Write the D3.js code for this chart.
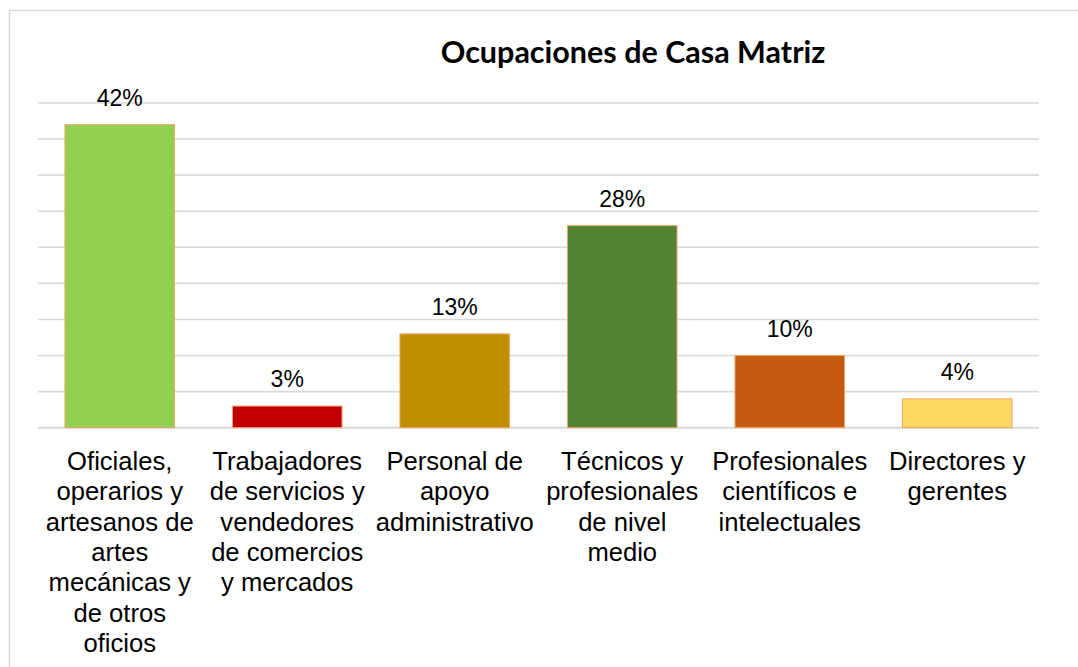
<!DOCTYPE html>
<html>
<head>
<meta charset="utf-8">
<script src="https://cdn.jsdelivr.net/npm/d3@7"></script>
<style>
  body { margin: 0; background: #fff; }
  svg { display: block; }
</style>
</head>
<body>
<script>
// categories (line breaks as in the original chart)
var categories = [
  "Oficiales,\noperarios y\nartesanos de\nartes\nmecánicas y\nde otros\noficios",
  "Trabajadores\nde servicios y\nvendedores\nde comercios\ny mercados",
  "Personal de\napoyo\nadministrativo",
  "Técnicos y\nprofesionales\nde nivel\nmedio",
  "Profesionales\ncientíficos e\nintelectuales",
  "Directores y\ngerentes"
];
var values = [42, 3, 13, 28, 10, 4];
var barColors = ["#92D050", "#C00000", "#BF8F00", "#548235", "#C55A11", "#FFD966"];
var gridTicks = [0, 5, 10, 15, 20, 25, 30, 35, 40, 45];
var title = "Ocupaciones de Casa Matriz";

var width = 1078, height = 667;

var svg = d3.select("body").append("svg")
  .attr("width", width)
  .attr("height", height);

// chart frame (runs past the right and bottom edge like in the picture)
svg.append("rect")
  .attr("x", 9.5).attr("y", 10.5)
  .attr("width", 1100).attr("height", 700)
  .attr("fill", "none")
  .attr("stroke", "#d9d9d9")
  .attr("stroke-width", 1.5);

var x = d3.scaleBand()
  .domain(d3.range(categories.length))
  .range([38, 1039])
  .paddingInner(0.346)
  .paddingOuter(0.161);

var y = d3.scaleLinear()
  .domain([0, 45])
  .range([427.7, 103]);

// gridlines
svg.append("g")
  .selectAll("line")
  .data(gridTicks)
  .enter().append("line")
  .attr("x1", 38).attr("x2", 1039)
  .attr("y1", function(d) { return y(d); })
  .attr("y2", function(d) { return y(d); })
  .attr("stroke", "#d9d9d9")
  .attr("stroke-width", function(d) { return d == 0 ? 2 : 1.6; });

// bars
svg.append("g")
  .selectAll("rect")
  .data(values)
  .enter().append("rect")
  .attr("x", function(d, i) { return x(i); })
  .attr("y", function(d) { return y(d); })
  .attr("width", x.bandwidth())
  .attr("height", function(d) { return y(0) - y(d); })
  .attr("fill", function(d, i) { return barColors[i]; })
  .attr("stroke", "#F1A566")
  .attr("stroke-width", 1);

// data labels
svg.append("g")
  .selectAll("text")
  .data(values)
  .enter().append("text")
  .attr("x", function(d, i) { return x(i) + x.bandwidth() / 2; })
  .attr("y", function(d) { return y(d) - 19; })
  .attr("text-anchor", "middle")
  .style("font-family", "'Liberation Sans', Arial, sans-serif")
  .style("font-size", "23px")
  .attr("fill", "#000")
  .text(function(d) { return d + "%"; });

// category labels
var cat = svg.append("g")
  .selectAll("text")
  .data(categories)
  .enter().append("text")
  .attr("text-anchor", "middle")
  .style("font-family", "'Liberation Sans', Arial, sans-serif")
  .style("font-size", "25.6px")
  .attr("fill", "#000");

cat.each(function(d, i) {
  var t = d3.select(this);
  d.split("\n").forEach(function(line, k) {
    t.append("tspan")
      .attr("x", x(i) + x.bandwidth() / 2)
      .attr("y", 470 + k * 30.3)
      .text(line);
  });
});

// title
svg.append("text")
  .attr("x", 633)
  .attr("y", 63)
  .attr("text-anchor", "middle")
  .style("font-family", "Lato, 'Open Sans', sans-serif")
  .style("font-weight", "bold")
  .style("font-size", "30.5px")
  .attr("fill", "#000")
  .text(title);
</script>
</body>
</html>
